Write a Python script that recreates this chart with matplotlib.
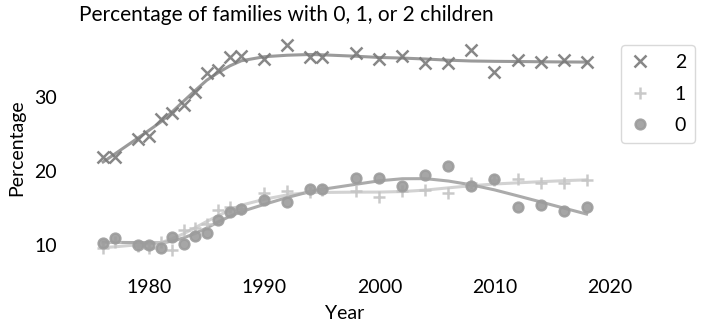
import matplotlib.pyplot as plt
import numpy as np

plt.rcParams['font.family'] = ['Lato', 'DejaVu Sans']

# survey years
years = [1976, 1977, 1979, 1980, 1981, 1982, 1983, 1984, 1985, 1986, 1987, 1988,
         1990, 1992, 1994, 1995, 1998, 2000, 2002, 2004, 2006, 2008, 2010,
         2012, 2014, 2016, 2018]

# percentage of families with 2, 1, 0 children
pct_two = [21.9, 21.9, 24.3, 24.8, 27.1, 27.8, 28.9, 30.7, 33.2, 33.7, 35.4, 35.5,
           35.2, 37.0, 35.4, 35.4, 35.9, 35.2, 35.6, 34.6, 34.6, 36.4, 33.4,
           35.0, 34.7, 35.0, 34.7]
pct_one = [9.6, 10.4, 9.9, 9.6, 10.4, 9.4, 12.0, 12.4, 12.9, 14.7, 15.2, 14.9,
           17.1, 17.3, 17.2, 17.5, 17.3, 16.5, 17.3, 17.4, 17.0, 18.4, 18.8,
           19.0, 18.4, 18.4, 18.8]
pct_zero = [10.3, 11.0, 10.0, 10.1, 9.7, 11.1, 10.2, 11.3, 11.6, 13.4, 14.5, 14.9,
            16.1, 15.8, 17.6, 17.6, 19.1, 19.1, 18.0, 19.5, 20.7, 18.0, 18.9,
            15.2, 15.4, 14.6, 15.2]


def lowess(x, y, frac=0.35):
    # locally weighted linear fit, tricube weights
    x = np.asarray(x, float)
    y = np.asarray(y, float)
    n = len(x)
    k = int(np.ceil(frac * n))
    out = np.empty(n)
    for i in range(n):
        d = np.abs(x - x[i])
        h = np.sort(d)[k - 1]
        w = np.clip(1 - (d / h) ** 3, 0, 1) ** 3
        A = np.vstack([np.ones(n), x - x[i]]).T
        W = np.diag(w)
        beta = np.linalg.lstsq(A.T @ W @ A, A.T @ W @ y, rcond=None)[0]
        out[i] = beta[0]
    return out


fig = plt.figure(figsize=(7.02, 3.26), dpi=100)
ax = fig.add_axes([0.1125, 0.2025, 0.7575, 0.69])

series = [
    ('2', pct_two, 'x', '#7a7a7a', '#9a9a9a', 8),
    ('1', pct_one, '+', '#c4c4c4', '#d2d2d2', 9),
    ('0', pct_zero, 'o', '#9c9c9c', '#ababab', 7),
]
for label, vals, marker, mcolor, lcolor, ms in series:
    ax.plot(years, lowess(years, vals), color=lcolor, lw=2.2, zorder=2)
    ax.plot(years, vals, linestyle='none', marker=marker, color=mcolor,
            markersize=ms, markeredgewidth=1.8, alpha=0.9, label=label, zorder=3)

ax.set_xticks([1980, 1990, 2000, 2010, 2020])
ax.set_yticks([10, 20, 30])
ax.tick_params(length=0, labelsize=14)
ax.tick_params(axis='x', pad=14)
ax.tick_params(axis='y', pad=16)
for s in ax.spines.values():
    s.set_visible(False)

ax.set_xlabel('Year', fontsize=14, labelpad=6)
ax.set_ylabel('Percentage', fontsize=14, labelpad=6)
ax.set_title('Percentage of families with 0, 1, or 2 children', loc='left',
             fontsize=15, pad=10)

leg = ax.legend(loc='upper left', bbox_to_anchor=(1.02, 0.955), fontsize=14,
                handlelength=1.0, handletextpad=1.3, borderpad=0.45,
                labelspacing=0.75, borderaxespad=0)
leg.get_frame().set_edgecolor('#d0d0d0')

plt.savefig('out.png')
